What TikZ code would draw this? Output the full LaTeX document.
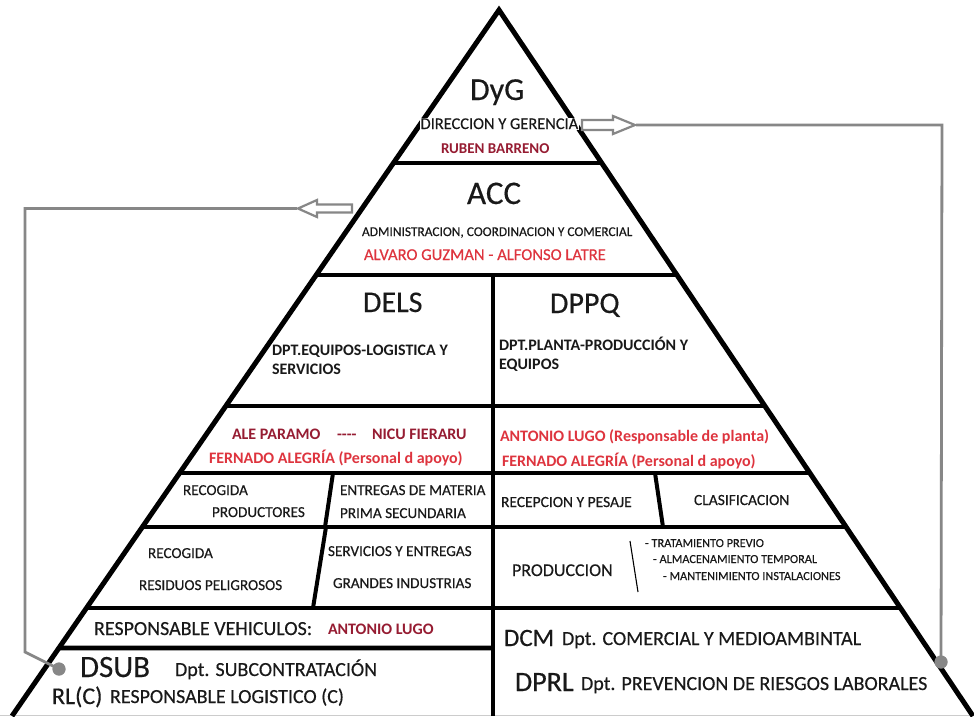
\documentclass[tikz,border=0pt]{standalone}
\usepackage{fontspec}
\setmainfont{Carlito}[UprightFeatures={FakeBold=0.35}]
\usetikzlibrary{calc}
\definecolor{txt}{RGB}{25,25,25}
\definecolor{redA}{RGB}{222,52,62}
\definecolor{redD}{RGB}{150,28,50}
\definecolor{gline}{RGB}{135,135,135}
\newcommand\fsz[1]{\fontsize{#1pt}{#1pt}\selectfont}
\begin{document}
\begin{tikzpicture}[x=1pt,y=-1pt,
  edge/.style={line width=5pt,line join=miter,black},
  tier/.style={line width=4.6pt,black},
  divider/.style={line width=4pt,black},
  thinsep/.style={line width=1.1pt,black},
  lbl/.style={anchor=base west,inner sep=0pt,outer sep=0pt,text=txt},
  garrow/.style={draw=gline,line width=2.2pt,fill=white,line join=miter},
  gl/.style={draw=gline,line width=2.8pt,line join=miter},
  gdot/.style={circle,fill=gline,minimum size=13pt,inner sep=0pt}]
\useasboundingbox (0,0) rectangle (974,716);
\fill[white] (0,0) rectangle (974,716);
\draw[line width=1.2pt,black!20] (0,715.4) -- (974,715.4);
\coordinate (apex) at (499,10);
\coordinate (bl) at (12,716);
\coordinate (br) at (973,716);
% tiers
\foreach \yy in {163,275,406,473,527,608}
  \draw[tier] ($(apex)!{(\yy-10)/706}!(bl)$) -- ($(apex)!{(\yy-10)/706}!(br)$);
\draw[tier] ($(apex)!{638/706}!(bl)$) -- (493,648);
% dividers
\draw[divider] (493,275) -- (493,716);
\draw[divider] (333,473) -- (325,527);
\draw[divider] (655,473) -- (663,527);
\draw[divider] (326,527) -- (313,608);
\draw[thinsep] (630,541) -- (638,592);
% pyramid edges
\draw[edge] (bl) -- (apex) -- (br);
% texts
\node[lbl,font=\fsz{32}] (dyg) at (470,100) {DyG};
\node[lbl,font=\fsz{16.4},fill=white,inner sep=0.6pt] (dirg) at (420,129) {DIRECCION Y GERENCIA};
\node[lbl,font={\fsz{15}\bfseries},text=redD] (ruben) at (441,153) {RUBEN BARRENO};
\node[lbl,font=\fsz{33}] (acc) at (467,204) {ACC};
\node[lbl,font=\fsz{13.4}] (admin) at (362,236) {ADMINISTRACION, COORDINACION Y COMERCIAL};
\node[lbl,font=\fsz{16.6},text=redA] (alvaro) at (364,260) {ALVARO GUZMAN - ALFONSO LATRE};
\node[lbl,font=\fsz{30}] (dels) at (363,312) {DELS};
\node[lbl,font=\fsz{30}] (dppq) at (550,313) {DPPQ};
\node[lbl,font={\fsz{16}\bfseries}] (dpta) at (272,355) {DPT.EQUIPOS-LOGISTICA Y};
\node[lbl,font={\fsz{16}\bfseries}] (dptab) at (272,374) {SERVICIOS};
\node[lbl,font={\fsz{16}\bfseries}] (dptb) at (499,350) {DPT.PLANTA-PRODUCCIÓN Y};
\node[lbl,font={\fsz{16}\bfseries}] (dptbb) at (499,369) {EQUIPOS};
\node[lbl,font={\fsz{16}\bfseries},text=redD] (ale) at (232,439) {ALE PARAMO};
\node[lbl,font={\fsz{16}\bfseries},text=redD] (dash) at (337,439) {-{}-{}-{}-};
\node[lbl,font={\fsz{16}\bfseries},text=redD] (nicu) at (372,439) {NICU FIERARU};
\node[lbl,font={\fsz{16}\bfseries},text=redA] (ferna) at (209,463) {FERNADO ALEGRÍA (Personal d apoyo)};
\node[lbl,font={\fsz{16}\bfseries},text=redA] (anton) at (500,441) {ANTONIO LUGO (Responsable de planta)};
\node[lbl,font={\fsz{16}\bfseries},text=redA] (fernb) at (502,466) {FERNADO ALEGRÍA (Personal d apoyo)};
\node[lbl,font=\fsz{15.2}] (reca) at (183,495) {RECOGIDA};
\node[lbl,font=\fsz{15.2}] (prod) at (212,517) {PRODUCTORES};
\node[lbl,font=\fsz{15.2}] (entr) at (340,495) {ENTREGAS DE MATERIA};
\node[lbl,font=\fsz{15.2}] (prima) at (340,518) {PRIMA SECUNDARIA};
\node[lbl,font=\fsz{15.5}] (recep) at (501,507) {RECEPCION Y PESAJE};
\node[lbl,font=\fsz{15.5}] (clas) at (694,505) {CLASIFICACION};
\node[lbl,font=\fsz{15.2}] (recb) at (148,558) {RECOGIDA};
\node[lbl,font=\fsz{15.2}] (resid) at (139,590) {RESIDUOS PELIGROSOS};
\node[lbl,font=\fsz{15.2}] (serv) at (328,556) {SERVICIOS Y ENTREGAS};
\node[lbl,font=\fsz{15.2}] (grand) at (333,588) {GRANDES INDUSTRIAS};
\node[lbl,font=\fsz{18}] (produ) at (512,576) {PRODUCCION};
\node[lbl,font=\fsz{12.3}] (lsta) at (645,547) {- TRATAMIENTO PREVIO};
\node[lbl,font=\fsz{12.3}] (lstb) at (653,563) {- ALMACENAMIENTO TEMPORAL};
\node[lbl,font=\fsz{12.3}] (lstc) at (663,580) {- MANTENIMIENTO INSTALACIONES};
\node[lbl,font=\fsz{20}] (respv) at (94,635) {RESPONSABLE VEHICULOS:};
\node[lbl,font={\fsz{16}\bfseries},text=redD] (antl) at (328,634) {ANTONIO LUGO};
\node[lbl,font=\fsz{31}] (dsub) at (80,677) {DSUB};
\node[lbl,font=\fsz{20}] (dsubt) at (175,676) {Dpt. SUBCONTRATACIÓN};
\node[lbl,font=\fsz{24}] (rlc) at (52,704) {RL(C)};
\node[lbl,font=\fsz{20}] (rlct) at (110,703) {RESPONSABLE LOGISTICO (C)};
\node[lbl,font=\fsz{25}] (dcm) at (504,646) {DCM};
\node[lbl,font=\fsz{20}] (dcmt) at (562,645) {Dpt. COMERCIAL Y MEDIOAMBINTAL};
\node[lbl,font=\fsz{28}] (dprl) at (515,691) {DPRL};
\node[lbl,font=\fsz{20}] (dprlt) at (581,690) {Dpt. PREVENCION DE RIESGOS LABORALES};
% hollow arrows
\draw[garrow] (582,120) -- (613,120) -- (613,116) -- (635,125) -- (613,134) -- (613,130) -- (582,130) -- cycle;
\draw[garrow] (352,204.5) -- (317,204.5) -- (317,200) -- (298,208.5) -- (317,217) -- (317,212.5) -- (352,212.5) -- cycle;
% gray connectors
\coordinate (rtip) at (636,125);
\coordinate (rcorner) at (942,125);
\coordinate (ltip) at (297,208.5);
\coordinate (lcorner) at (25,208.5);
\coordinate (lbend) at (25,652);
\node[gdot] (rdot) at (941,662) {};
\node[gdot] (ldot) at (59,669) {};
\draw[gl] (rtip) -- (rcorner) -- (rdot.center);
\draw[gl] (ltip) -- (lcorner) -- (lbend) -- (ldot.center);
\node[gdot] at (rdot) {};
\node[gdot] at (ldot) {};
\end{tikzpicture}
\end{document}
